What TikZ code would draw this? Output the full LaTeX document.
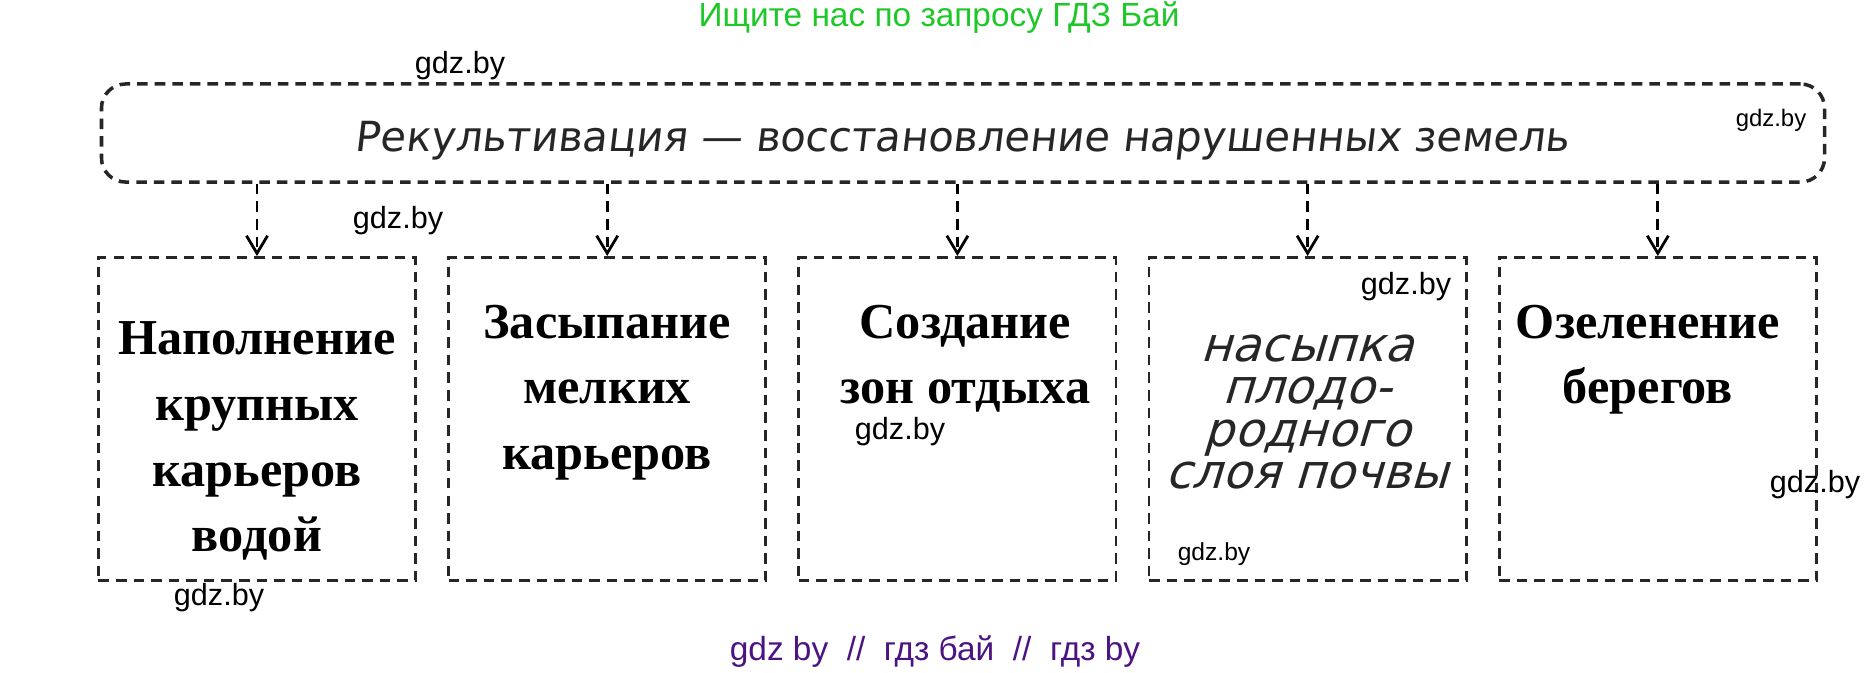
\documentclass[tikz,border=0pt]{standalone}
\usepackage{fontspec}
\setmainfont{Liberation Serif}
\setsansfont{Liberation Sans}
\newfontfamily\handfont[FakeSlant=0.3]{DejaVu Sans}
\newfontfamily\rekfont[FakeSlant=0.12]{DejaVu Sans}
\usetikzlibrary{arrows.meta,positioning}
\definecolor{gdzgreen}{RGB}{30,200,40}
\definecolor{gdzpurple}{RGB}{75,20,130}

\begin{document}
\begin{tikzpicture}[x=0.01cm,y=-0.01cm,>={Straight Barb[length=5pt,width=6pt]},node distance=3.5cm,on grid,
  box/.style={draw=black!85,densely dashed,line width=0.8pt,minimum width=3.17cm,minimum height=3.23cm},
  lbl/.style={font=\bfseries\fontsize{14.3}{18.7}\selectfont,align=center,anchor=north,inner sep=0pt},
  wm/.style={font=\sffamily\fontsize{8.7}{10}\selectfont,inner sep=0pt}]
\useasboundingbox (0,0) rectangle (1876,672);
  \node[font=\sffamily\fontsize{9.5}{11}\selectfont,text=gdzgreen] (top) at (939,18) {Ищите нас по запросу ГДЗ Бай};
  \node[draw=black!85,densely dashed,line width=1pt,rounded corners=0.24cm,minimum width=17.22cm,minimum height=0.98cm] (rek) at (963,133) {};
  \node[font=\rekfont\fontsize{11.8}{14}\selectfont,text=black!85] (rektxt) at (962,141) {Рекультивация — восстановление нарушенных земель};
  \node[box]          (b1) at (257,419)        {};
  \node[box]          (b2) [right =of b1]      {};
  \node[box]          (b3) [right =of b2]      {};
  \node[box]          (b4) [right =of b3]      {};
  \node[box]          (b5) [right =of b4]      {};
  \node[lbl] (t1) at ([yshift=-0.65cm]b1.north) {Наполнение\\крупных\\карьеров\\водой};
  \node[lbl] (t2) at ([yshift=-0.48cm]b2.north) {Засыпание\\мелких\\карьеров};
  \node[lbl] (t3) at ([yshift=-0.48cm,xshift=0.08cm]b3.north) {Создание\\зон отдыха};
  \node[font=\handfont\fontsize{13.5}{12}\selectfont,align=center,text=black!85] (t4) at (1307,412) {насыпка\\плодо-\\родного\\слоя почвы};
  \node[lbl] (t5) at ([yshift=-0.48cm,xshift=-0.1cm]b5.north) {Озеленение\\берегов};
\tikzset{arr/.style={->,densely dashed,line width=0.8pt}}
\path
      (b1.north |- rek.south)  edge [arr]  (b1.north)
      (b2.north |- rek.south)  edge [arr]  (b2.north)
      (b3.north |- rek.south)  edge [arr]  (b3.north)
      (b4.north |- rek.south)  edge [arr]  (b4.north)
      (b5.north |- rek.south)  edge [arr]  (b5.north);
  \node[wm] (w1) at (460,66)  {gdz.by};
  \node[wm,font=\sffamily\fontsize{6.8}{8}\selectfont] (w2) at (1771,120) {gdz.by};
  \node[wm] (w3) at (398,221) {gdz.by};
  \node[wm] (w4) at (1406,287) {gdz.by};
  \node[wm] (w5) at (900,432) {gdz.by};
  \node[wm,font=\sffamily\fontsize{7}{8}\selectfont] (w6) at (1214,554) {gdz.by};
  \node[wm] (w7) at (1815,485) {gdz.by};
  \node[wm] (w8) at (219,598) {gdz.by};
  \node[font=\sffamily\fontsize{9.5}{11}\selectfont,text=gdzpurple] (bot) at (935,652) {gdz by~~//~~гдз бай~~//~~гдз by};
\end{tikzpicture}
\end{document}
